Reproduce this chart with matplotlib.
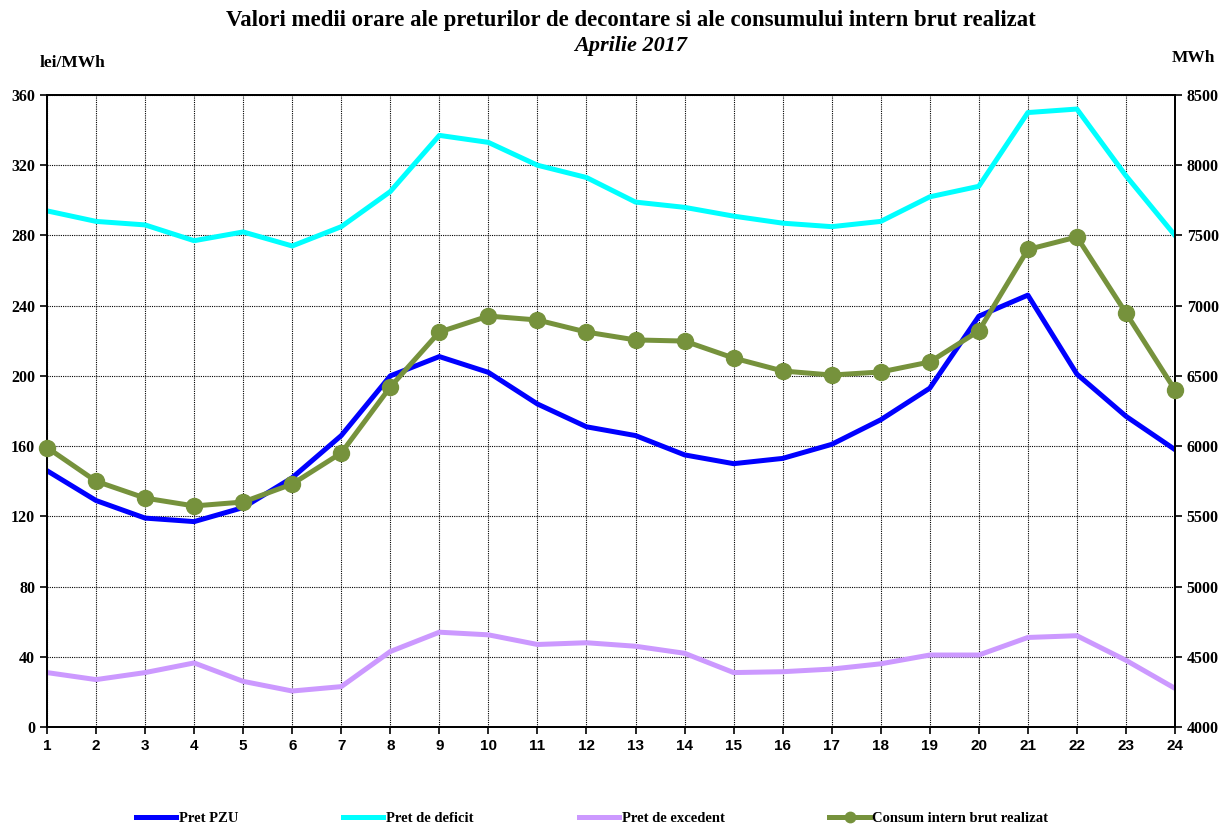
import matplotlib
matplotlib.use('Agg')
import matplotlib.pyplot as plt
import numpy as np

hours = list(range(1, 25))

pret_pzu = [146, 129, 119, 117, 125, 142, 166, 200, 211, 202, 184, 171,
            166, 155, 150, 153, 161, 175, 193, 234, 246, 201, 177, 158]
pret_deficit = [294, 288, 286, 277, 282, 274, 285, 305, 337, 333, 320, 313,
                299, 296, 291, 287, 285, 288, 302, 308, 350, 352, 314, 280]
pret_excedent = [31, 27, 31, 36.5, 26, 20.5, 23, 43, 54, 52.5, 47, 48,
                 46, 42, 31, 31.5, 33, 36, 41, 41, 51, 52, 38, 22]
consum = [5990, 5750, 5630, 5574, 5602, 5730, 5951, 6421, 6812, 6926, 6898, 6812,
          6756, 6748, 6627, 6535, 6506, 6528, 6599, 6820, 7400, 7489, 6948, 6400]

serif = 'Liberation Serif'
sans = 'Liberation Sans'

fig = plt.figure(figsize=(12.2, 8.27), dpi=100)
ax = fig.add_axes([47/1220, 1 - 727/827, (1175-47)/1220, (727-95)/827])
ax2 = ax.twinx()

l1, = ax.plot(hours, pret_pzu, color='#0000ff', lw=3.6, label='Pret PZU')
l2, = ax.plot(hours, pret_deficit, color='#00ffff', lw=3.6, label='Pret de deficit')
l3, = ax.plot(hours, pret_excedent, color='#cc99ff', lw=3.6, label='Pret de excedent')
l4, = ax2.plot(hours, consum, color='#76923c', lw=3.6, marker='o', markersize=11.5,
               label='Consum intern brut realizat', clip_on=False, zorder=5)

ax.set_xlim(1, 24)
ax.set_ylim(0, 360)
ax.set_yticks(np.arange(0, 361, 40))
ax.set_xticks(hours)
ax2.set_ylim(4000, 8500)
ax2.set_yticks(np.arange(4000, 8501, 500))

ax.grid(True, color='black', linestyle=(0, (1, 1)), linewidth=0.8)
ax.set_axisbelow(True)

for a in (ax, ax2):
    for s in a.spines.values():
        s.set_linewidth(1.3)
    a.tick_params(direction='out', length=5, width=1.2)

for lab in ax.get_yticklabels() + ax2.get_yticklabels():
    lab.set_fontfamily(serif)
    lab.set_fontweight('bold')
    lab.set_fontsize(11.5)
for lab in ax.get_xticklabels():
    lab.set_fontfamily(sans)
    lab.set_fontweight('bold')
    lab.set_fontsize(11)

fig.text(0.517, 0.975, 'Valori medii orare ale preturilor de decontare si ale consumului intern brut realizat',
         ha='center', va='center', fontfamily=serif, fontweight='bold', fontsize=16.4)
fig.text(0.517, 0.944, 'Aprilie 2017', ha='center', va='center', fontfamily=serif,
         fontweight='bold', fontstyle='italic', fontsize=16)
fig.text(40/1220, 1 - 63/827, 'lei/MWh', ha='left', va='center', fontfamily=serif,
         fontweight='bold', fontsize=12.5)
fig.text(1215/1220, 1 - 58/827, 'MWh', ha='right', va='center', fontfamily=serif,
         fontweight='bold', fontsize=12.5)

fig.legend(handles=[l1, l2, l3, l4], loc='center', bbox_to_anchor=(592/1220, 1 - 818/827),
           ncol=4, frameon=False, handlelength=2.75, handletextpad=0.2, columnspacing=7.2,
           prop={'family': serif, 'weight': 'bold', 'size': 10.5}, markerscale=0.65)

fig.savefig('out.png', dpi=100)
